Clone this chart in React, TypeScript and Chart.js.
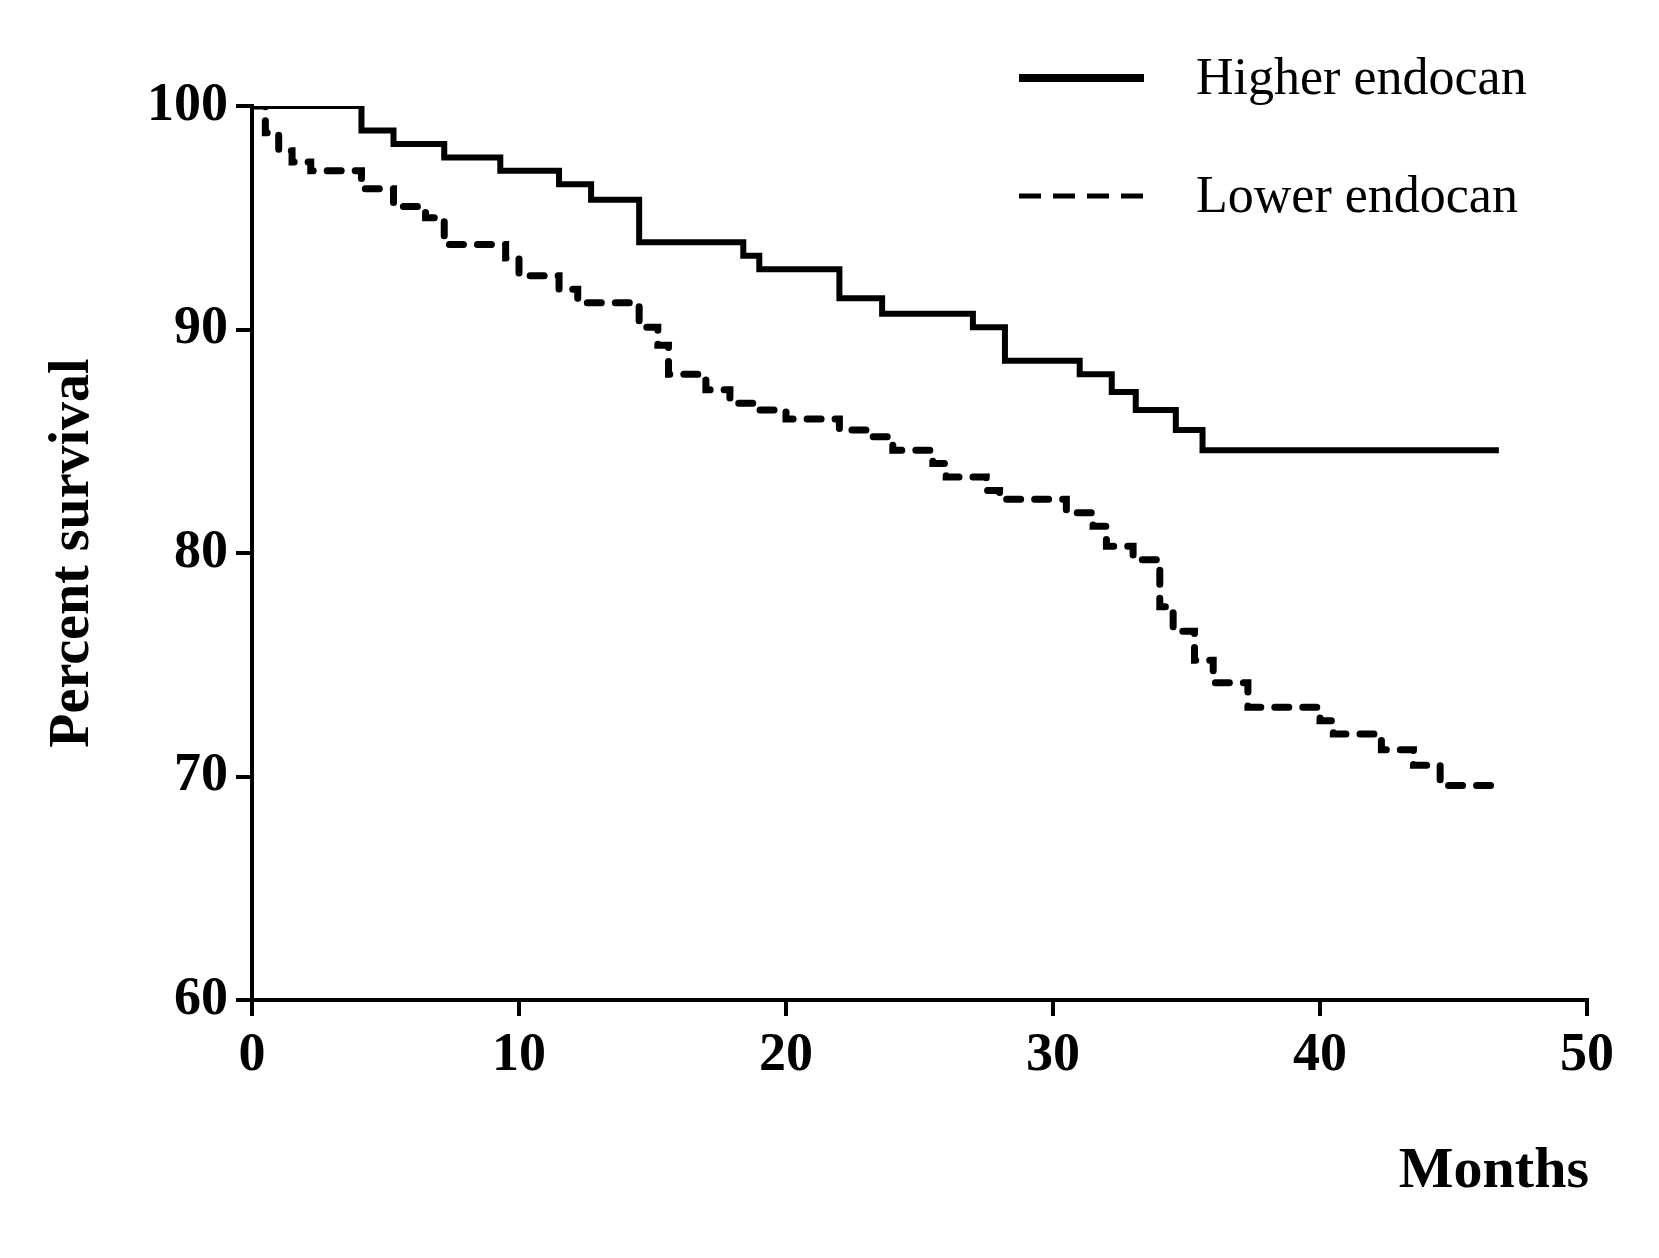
import React, { useEffect, useRef } from "react";
import { Chart, registerables } from "chart.js";
Chart.register(...registerables);

const higherX = [0, 4.1, 5.3, 7.2, 9.3, 11.5, 12.7, 14.5, 18.4, 19, 22, 23.6, 27, 28.2, 31, 32.2, 33.1, 34.6, 35.6, 46.7];
const higherY = [100, 98.9, 98.3, 97.7, 97.1, 96.5, 95.8, 93.9, 93.3, 92.7, 91.4, 90.7, 90.1, 88.6, 88.0, 87.2, 86.4, 85.5, 84.6, 84.6];
const lowerX = [0, 0.5, 1, 1.5, 2.2, 4.1, 5.3, 6.5, 7.2, 9.5, 10, 11.5, 12.2, 14.5, 15.2, 15.6, 17, 17.9, 19, 20, 22, 23, 24, 25.5, 26, 27.5, 28, 30.5, 31.5, 32, 33, 34, 34.5, 35.3, 36, 37.3, 40, 40.5, 42.3, 43.5, 44.5, 46.7];
const lowerY = [100, 98.8, 98, 97.5, 97.1, 96.3, 95.5, 95, 93.8, 93.2, 92.4, 91.8, 91.2, 90.1, 89.3, 88, 87.3, 86.7, 86.4, 86, 85.5, 85.2, 84.6, 84, 83.4, 82.8, 82.4, 81.8, 81.2, 80.3, 79.7, 77.6, 76.5, 75.2, 74.2, 73.1, 72.5, 71.9, 71.2, 70.5, 69.6, 69.6];
const xTicks = [0, 10, 20, 30, 40, 50];
const yTicks = [60, 70, 80, 90, 100];
const seriesNames = ["Higher endocan", "Lower endocan"];
const FONT = "'Liberation Serif', 'DejaVu Serif', serif";

export default function App() {
  const ref = useRef<HTMLCanvasElement>(null);
  useEffect(() => {
    const extras = {
      id: "extras",
      afterDraw(c: any) {
        const ctx = c.ctx;
        ctx.save();
        ctx.fillStyle = "#000";
        ctx.font = `bold 58px ${FONT}`;
        ctx.textAlign = "right";
        ctx.textBaseline = "alphabetic";
        ctx.fillText("Months", 1589, 1187);
        ctx.font = `52px ${FONT}`;
        ctx.textAlign = "left";
        ctx.textBaseline = "middle";
        ctx.strokeStyle = "#000";
        ctx.lineWidth = 8;
        ctx.beginPath(); ctx.moveTo(1019, 78); ctx.lineTo(1144, 78); ctx.stroke();
        ctx.fillText(seriesNames[0], 1196, 80);
        ctx.lineWidth = 5;
        ctx.setLineDash([22, 12]);
        ctx.beginPath(); ctx.moveTo(1019, 196); ctx.lineTo(1144, 196); ctx.stroke();
        ctx.setLineDash([]);
        ctx.fillText(seriesNames[1], 1196, 198);
        ctx.restore();
      },
    };
    const tickFont = { family: FONT, size: 54, weight: "bold" as const };
    const chart = new Chart(ref.current!, {
      type: "line",
      data: {
        datasets: [
          {
            label: seriesNames[0],
            data: higherX.map((x, i) => ({ x, y: higherY[i] })),
            stepped: "before",
            borderColor: "#000",
            borderWidth: 6,
            pointRadius: 0,
          },
          {
            label: seriesNames[1],
            data: lowerX.map((x, i) => ({ x, y: lowerY[i] })),
            stepped: "before",
            borderColor: "#000",
            borderWidth: 7,
            borderDash: [14, 14],
            borderCapStyle: "round",
            pointRadius: 0,
          },
        ],
      },
      options: {
        animation: false,
        responsive: false,
        layout: { padding: { left: 0, right: 72, top: 106, bottom: 0 } },
        plugins: { legend: { display: false }, tooltip: { enabled: false } },
        scales: {
          x: {
            type: "linear",
            min: 0,
            max: 50,
            afterBuildTicks: (s: any) => { s.ticks = xTicks.map((v) => ({ value: v })); },
            afterFit: (s: any) => { s.height = 1258 - 1000; },
            ticks: { font: tickFont, color: "#000", padding: 8 },
            grid: { drawOnChartArea: false, drawTicks: true, tickLength: 16, color: "#000", lineWidth: 4 },
            border: { display: true, width: 4, color: "#000" },
          },
          y: {
            type: "linear",
            min: 60,
            max: 100,
            afterBuildTicks: (s: any) => { s.ticks = yTicks.map((v) => ({ value: v })); },
            afterFit: (s: any) => { s.width = 252; },
            ticks: { font: tickFont, color: "#000", padding: 8 },
            title: { display: true, text: "Percent survival", font: { family: FONT, size: 56, weight: "bold" }, color: "#000", padding: { top: 40, bottom: 14 } },
            grid: { drawOnChartArea: false, drawTicks: true, tickLength: 16, color: "#000", lineWidth: 4 },
            border: { display: true, width: 4, color: "#000" },
          },
        },
      },
      plugins: [extras],
    });
    return () => chart.destroy();
  }, []);
  return (
    <div style={{ position: "fixed", left: 0, top: 0, width: 1659, height: 1258, background: "#fff" }}>
      <canvas ref={ref} width={1659} height={1258} style={{ width: 1659, height: 1258 }} />
    </div>
  );
}
